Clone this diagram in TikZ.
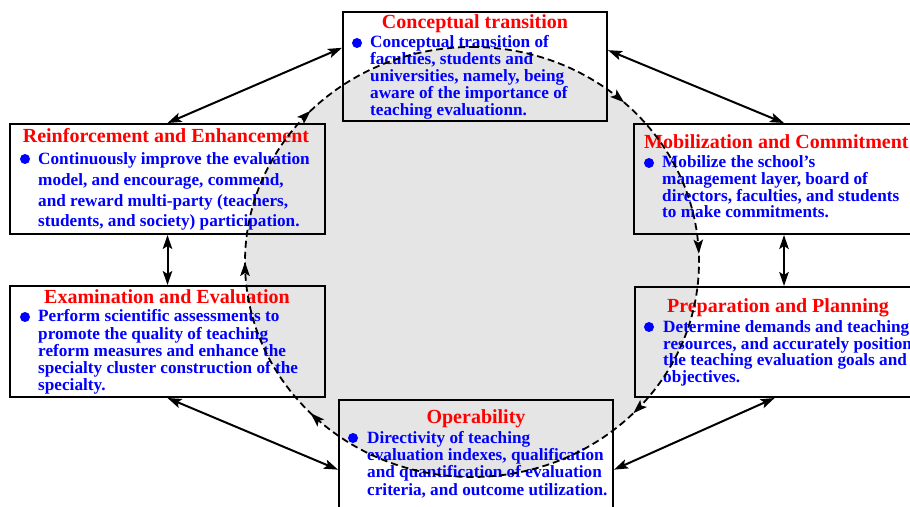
\documentclass[tikz,border=0pt]{standalone}
\usepackage{fontspec}
\setmainfont{Liberation Serif}
\usetikzlibrary{arrows.meta,decorations.markings}

\begin{document}
\begin{tikzpicture}[
  x=1pt, y=1pt,
  >={Stealth[length=14pt,width=9.5pt,inset=3pt]},
  %% box styles
  stagebox/.style = {rectangle, draw=black, line width=2pt, inner sep=0pt},
  ttl/.style      = {text=red, inner sep=0pt,
                     font=\fontsize{20}{20}\selectfont\bfseries},
  txt/.style      = {text=blue, align=left, inner sep=0pt,
                     font=\fontsize{17.2}{#1}\selectfont\bfseries},
  txt/.default    = 17,
  dot/.style      = {circle, fill=blue, inner sep=0pt, minimum size=10pt},
  %% arrows
  arr/.style      = {<->, line width=2pt},
  ring/.style     = {draw=black, line width=1.8pt, dash pattern=on 7pt off 4pt,
                     postaction={decorate},
                     decoration={markings,
                       mark=at position 0.119 with {\arrow{>}},
                       mark=at position 0.244 with {\arrow{>}},
                       mark=at position 0.372 with {\arrow{>}},
                       mark=at position 0.628 with {\arrow{>}},
                       mark=at position 0.750 with {\arrow{>}},
                       mark=at position 0.872 with {\arrow{>}}}}
]

%% ---- Canvas ----
\useasboundingbox (0,0) rectangle (910,506);
\clip (0,0) rectangle (910,506);
\fill[white] (0,0) rectangle (910,506);

%% ---- Cycle disc ----
\coordinate (CX) at (472,244);
\fill[black!10] (CX) ellipse[x radius=227, y radius=215];

%% ---- Stage boxes ----
\node[stagebox, minimum width=264pt, minimum height=109pt] (CT) at (475,439.5) {};
\node[stagebox, minimum width=315pt, minimum height=110pt] (RE) at (167.5,327) {};
\node[stagebox, minimum width=300pt, minimum height=110pt] (MC) at (784,327) {};
\node[stagebox, minimum width=315pt, minimum height=111pt] (EE) at (167.5,164.5) {};
\node[stagebox, minimum width=295pt, minimum height=110pt] (PP) at (782.5,164) {};
\node[stagebox, minimum width=274pt, minimum height=120pt] (OP) at (476,46) {};

%% ---- Arrows ----
\draw[arr] (CT.172) -- (RE.north);
\draw[arr] (CT.7)   -- (MC.north);
\draw[arr] (RE.south) -- (EE.north);
\draw[arr] (MC.south) -- (MC.south |- PP.north);
\draw[arr] (EE.south) -- (OP.184);
\draw[arr] (PP.262) -- (OP.-4);

%% ---- Titles ----
\node[ttl, anchor=base]      (CTt) at (475,477) {Conceptual transition};
\node[ttl, anchor=base]      (REt) at (166,363) {Reinforcement and Enhancement};
\node[ttl, anchor=base west] (MCt) at (644,357) {Mobilization and Commitment};
\node[ttl, anchor=base]      (EEt) at (167,202) {Examination and Evaluation};
\node[ttl, anchor=base]      (PPt) at (778,193) {Preparation and Planning};
\node[ttl, anchor=base]      (OPt) at (476,82)  {Operability};

%% ---- Bullets ----
\node[dot] (CTd) at (357,463) {};
\node[dot] (REd) at (25,347)  {};
\node[dot] (MCd) at (649,343) {};
\node[dot] (EEd) at (25,189)  {};
\node[dot] (PPd) at (649,179) {};
\node[dot] (OPd) at (353,68)  {};

%% ---- Body texts (placed at last baseline) ----
\node[txt, anchor=base west] (CTb) at (370,390)
  {Conceptual transition of\\ faculties, students and\\
   universities, namely, being\\ aware of the importance of\\
   teaching evaluationn.};
\node[txt=20.7, anchor=base west] (REb) at (38,279)
  {Continuously improve the evaluation\\ model, and encourage, commend,\\
   and reward multi-party (teachers,\\ students, and society) participation.};
\node[txt=16.7, anchor=base west] (MCb) at (662,288)
  {Mobilize the school's\\ management layer, board of\\
   directors, faculties, and students\\ to make commitments.};
\node[txt=17.25, anchor=base west] (EEb) at (38,115)
  {Perform scientific assessments to\\ promote the quality of teaching\\
   reform measures and enhance the\\ specialty cluster construction of the\\
   specialty.};
\node[txt=16.5, anchor=base west] (PPb) at (663,123.5)
  {Determine demands and teaching\\ resources, and accurately position\\
   the teaching evaluation goals and\\ objectives.};
\node[txt=17.3, anchor=base west] (OPb) at (367,11)
  {Directivity of teaching\\ evaluation indexes, qualification\\
   and quantification of evaluation\\ criteria, and outcome utilization.};

%% ---- Dashed cycle ----
\draw[ring] ([yshift=215pt]CX) arc[start angle=90, end angle=-270,
                                   x radius=227, y radius=215];

\end{tikzpicture}
\end{document}
